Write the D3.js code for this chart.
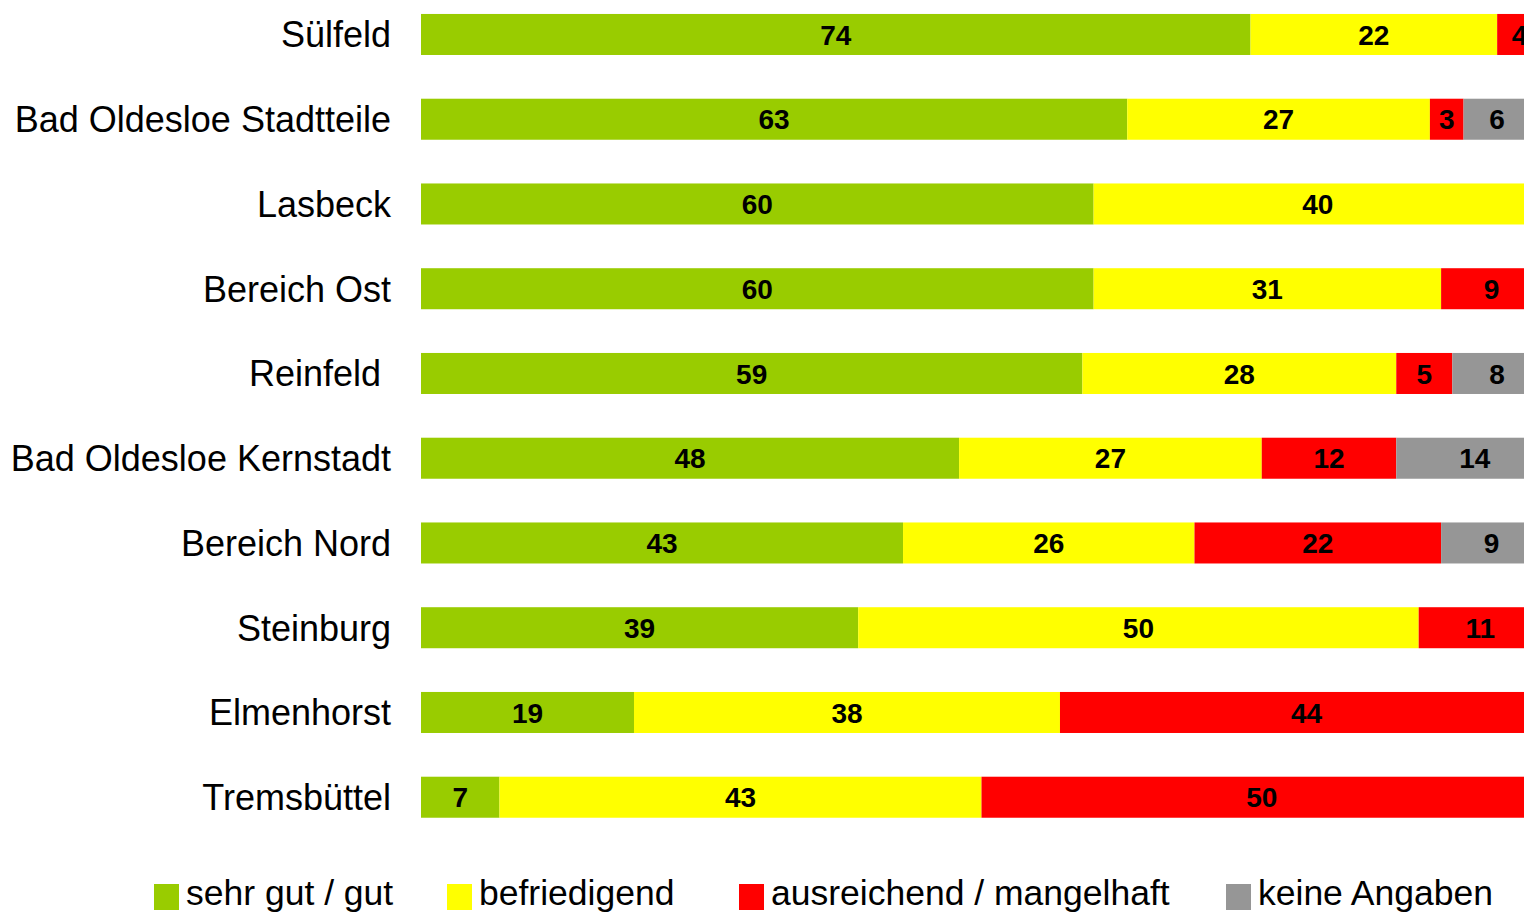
<!DOCTYPE html>
<html>
<head>
<meta charset="utf-8">
<script src="https://cdn.jsdelivr.net/npm/d3@7"></script>
<style>
  html, body { margin: 0; padding: 0; background: #fff; overflow: hidden; }
  svg { display: block; }
  text { font-family: "Liberation Sans", Arial, sans-serif; }
</style>
</head>
<body>
<svg id="chart" width="1524" height="912"></svg>
<script>
const categories = ["Sülfeld", "Bad Oldesloe Stadtteile", "Lasbeck", "Bereich Ost", "Reinfeld ",
  "Bad Oldesloe Kernstadt", "Bereich Nord", "Steinburg", "Elmenhorst", "Tremsbüttel"];
const seriesNames = ["sehr gut / gut", "befriedigend", "ausreichend / mangelhaft", "keine Angaben"];
const sehrGut      = [74, 63, 60, 60, 59, 48, 43, 39, 19, 7];
const befriedigend = [22, 27, 40, 31, 28, 27, 26, 50, 38, 43];
const ausreichend  = [4, 3, 0, 9, 5, 12, 22, 11, 44, 50];
const keineAngaben = [0, 6, 0, 0, 8, 14, 9, 0, 0, 0];
const colors = ["#99cc00", "#ffff00", "#ff0000", "#969696"];

const seriesArrays = [sehrGut, befriedigend, ausreichend, keineAngaben];
const rows = categories.map((c, i) => {
  const r = { cat: c };
  seriesNames.forEach((s, j) => r[s] = seriesArrays[j][i]);
  return r;
});

const svg = d3.select("#chart");
const x = d3.scaleLinear().domain([0, 100]).range([421, 1542]);
const y = d3.scaleBand().domain(categories).range([-7.9, 839.6]).paddingInner(0.516).paddingOuter(0.258);
const color = d3.scaleOrdinal().domain(seriesNames).range(colors);

const stacked = d3.stack().keys(seriesNames)(rows);

const layers = svg.append("g").selectAll("g").data(stacked).join("g").attr("fill", d => color(d.key));
layers.selectAll("rect").data(d => d.filter(p => p[1] - p[0] > 0)).join("rect")
  .attr("x", d => x(d[0]))
  .attr("y", d => y(d.data.cat))
  .attr("width", d => x(d[1]) - x(d[0]))
  .attr("height", y.bandwidth());

const labelLayers = svg.append("g").selectAll("g").data(stacked).join("g");
labelLayers.selectAll("text").data(d => d.filter(p => p[1] - p[0] > 0)).join("text")
  .attr("x", d => (x(d[0]) + x(d[1])) / 2)
  .attr("y", d => y(d.data.cat) + y.bandwidth() / 2)
  .attr("dy", "0.36em")
  .attr("text-anchor", "middle")
  .attr("font-size", 28)
  .attr("font-weight", "bold")
  .attr("fill", "#000")
  .text(d => d[1] - d[0]);

// category axis labels
svg.append("g").selectAll("text").data(categories).join("text")
  .attr("x", 391)
  .attr("y", d => y(d) + y.bandwidth() / 2)
  .attr("dy", "0.36em")
  .attr("text-anchor", "end")
  .attr("font-size", 36)
  .style("white-space", "pre")
  .attr("fill", "#000")
  .text(d => d);

// legend
const legendX = [154, 447, 739, 1226];
const lg = svg.append("g").selectAll("g").data(seriesNames).join("g")
  .attr("transform", (d, i) => `translate(${legendX[i]},0)`);
lg.append("rect").attr("x", 0).attr("y", 884).attr("width", 25).attr("height", 26)
  .attr("fill", d => color(d));
lg.append("text").attr("x", 32).attr("y", 905).attr("font-size", 35.5).attr("fill", "#000").text(d => d);
</script>
</body>
</html>
